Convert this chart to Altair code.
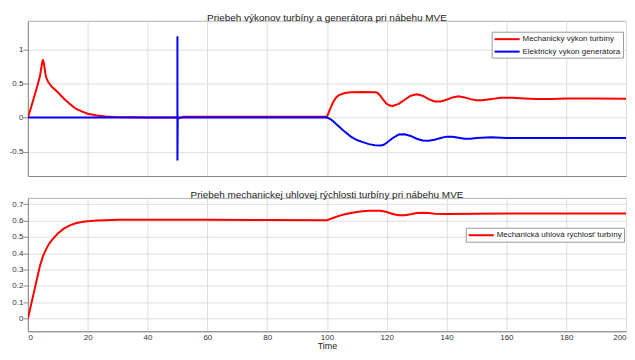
import altair as alt
import pandas as pd

# ---- data ----
t_mech = [0, 1, 2, 3, 4, 4.6, 5, 5.4, 6, 6.8, 8, 10, 12, 14, 16, 18, 20, 23, 26, 30, 35, 40,
          50, 50.5, 52, 60, 80, 100, 101, 102, 103, 104, 106, 108, 112, 116, 117, 118, 119,
          120, 121, 122, 124, 126, 128, 130, 132, 134, 136, 138, 140, 142, 144, 146, 148,
          150, 152, 155, 158, 162, 166, 170, 175, 180, 190, 200]
p_mech = [0, 0.14, 0.29, 0.44, 0.6, 0.76, 0.85, 0.78, 0.6, 0.52, 0.45, 0.37, 0.28, 0.2, 0.13,
          0.09, 0.055, 0.03, 0.015, 0.006, 0.003, 0.002,
          0.0, -0.012, 0.01, 0.012, 0.012, 0.012, 0.12, 0.22, 0.29, 0.33, 0.36, 0.37, 0.375,
          0.372, 0.36, 0.31, 0.25, 0.2, 0.175, 0.17, 0.2, 0.26, 0.32, 0.34, 0.32, 0.27,
          0.235, 0.235, 0.26, 0.295, 0.31, 0.295, 0.27, 0.255, 0.255, 0.27, 0.29, 0.29,
          0.28, 0.272, 0.272, 0.278, 0.28, 0.276]

t_elec = [0, 49.9, 50, 50, 50, 50.1, 100, 101, 102, 104, 106, 108, 110, 112, 114, 116, 118,
          119, 120, 122, 124, 126, 128, 130, 132, 134, 136, 138, 140, 142, 144, 146, 148,
          150, 155, 160, 170, 180, 200]
p_elec = [0, 0, 0, 1.19, -0.63, 0, 0, -0.02, -0.05, -0.13, -0.21, -0.28, -0.33, -0.36, -0.39,
          -0.405, -0.41, -0.4, -0.37, -0.3, -0.25, -0.245, -0.27, -0.31, -0.335, -0.34,
          -0.325, -0.3, -0.28, -0.28, -0.295, -0.31, -0.31, -0.3, -0.29, -0.3, -0.3, -0.3, -0.3]

t_speed = [0, 1, 2, 3, 4, 5, 6, 7, 8, 10, 12, 14, 16, 18, 20, 23, 26, 30, 40, 60, 80, 100,
           102, 104, 106, 108, 110, 112, 114, 116, 118, 120, 122, 124, 126, 128, 130, 132,
           134, 136, 140, 150, 160, 180, 200]
w_speed = [0, 0.08, 0.16, 0.24, 0.32, 0.38, 0.42, 0.455, 0.48, 0.52, 0.55, 0.57, 0.583, 0.59,
           0.595, 0.6, 0.602, 0.604, 0.605, 0.604, 0.603, 0.602, 0.615, 0.628, 0.638, 0.646,
           0.652, 0.656, 0.659, 0.66, 0.66, 0.652, 0.64, 0.632, 0.632, 0.638, 0.645, 0.647,
           0.645, 0.641, 0.639, 0.641, 0.642, 0.642, 0.642]

x_ticks = [0, 20, 40, 60, 80, 100, 120, 140, 160, 180, 200]
top_y_ticks = [-0.5, 0, 0.5, 1]
bot_y_ticks = [0, 0.1, 0.2, 0.3, 0.4, 0.5, 0.6, 0.7]

name_mech = "Mechanický výkon turbíny"
name_elec = "Elektrický vykon generátora"
name_speed = "Mechanická uhlová rýchlosť turbíny"
title_top = "Priebeh výkonov turbíny a generátora pri nábehu MVE"
title_bot = "Priebeh mechanickej uhlovej rýchlosti turbíny pri nábehu MVE"

# ---- tables ----
rows = []
i = 0
for t, v in zip(t_mech, p_mech):
    rows.append({"t": t, "v": v, "s": name_mech, "i": i}); i += 1
for t, v in zip(t_elec, p_elec):
    rows.append({"t": t, "v": v, "s": name_elec, "i": i}); i += 1
df_pow = pd.DataFrame(rows)
df_speed = pd.DataFrame({"t": t_speed, "v": w_speed, "s": name_speed})

FONT = "Liberation Sans"
lab = "replace(format(datum.value, '~g'), '\u2212', '-')"

W = 601
legend_common = dict(
    orient="none", title=None, symbolType="M-2.8,0H2.8", symbolStrokeWidth=2,
    symbolSize=81, symbolOffset=8, labelOffset=10,
    labelFontSize=8, labelFont=FONT, labelColor="#222",
    fillColor="white", strokeColor="#999", padding=2, rowPadding=2.5,
    cornerRadius=0, labelLimit=300,
)

top = alt.Chart(df_pow, title=alt.Title(title_top, offset=-2)).mark_line(
    strokeWidth=2, clip=True
).encode(
    x=alt.X("t:Q", scale=alt.Scale(domain=[0, 200], nice=False),
            axis=alt.Axis(values=x_ticks, labels=False, ticks=False, title=None)),
    y=alt.Y("v:Q", scale=alt.Scale(domain=[-0.857, 1.418], nice=False, zero=False),
            axis=alt.Axis(values=top_y_ticks, title=None, labelExpr=lab)),
    color=alt.Color("s:N", scale=alt.Scale(domain=[name_mech, name_elec],
                                           range=["#ff0000", "#0000ff"]),
                    legend=alt.Legend(legendX=466, legendY=11, **legend_common)),
    order="i:Q",
    detail="s:N",
).properties(width=W, height=156)

bottom = alt.Chart(df_speed, title=alt.Title(title_bot, offset=-2)).mark_line(
    strokeWidth=2, clip=True
).encode(
    x=alt.X("t:Q", scale=alt.Scale(domain=[0, 200], nice=False),
            axis=alt.Axis(values=x_ticks, ticks=False, title="Time", labelFlush=True,
                          labelPadding=2, titlePadding=0, titleFontSize=9)),
    y=alt.Y("v:Q", scale=alt.Scale(domain=[-0.078, 0.738], nice=False, zero=False),
            axis=alt.Axis(values=bot_y_ticks, title=None, labelExpr=lab)),
    color=alt.Color("s:N", scale=alt.Scale(domain=[name_speed], range=["#ff0000"]),
                    legend=alt.Legend(legendX=440, legendY=30, **legend_common)),
).properties(width=W, height=134)

chart = alt.vconcat(
    top, bottom, spacing=12,
    padding={"left": 0, "top": 3, "right": 0, "bottom": 0},
).resolve_scale(
    color="independent"
).resolve_legend(color="independent").configure(
    background="white"
).configure_view(
    stroke="#b0b0b0", strokeWidth=1
).configure_axis(
    labelFont=FONT, labelFontSize=8, labelColor="#333", labelPadding=0,
    titleFont=FONT, titleFontSize=10, titleColor="#222", titleFontWeight="normal",
    gridColor="#dedede", gridWidth=1, domainColor="#888",
).configure_title(
    font=FONT, fontSize=10, fontWeight="normal", color="#222", anchor="middle"
)

chart.save("out.html", embed_options={"renderer": "svg", "actions": False})
